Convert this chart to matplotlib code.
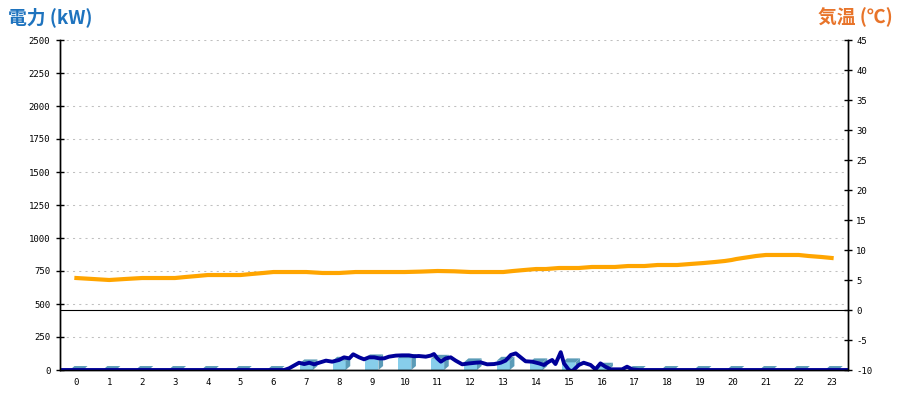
import matplotlib
matplotlib.use("Agg")
import matplotlib.pyplot as plt
from matplotlib.patches import Polygon

# hourly power bars (kW)
hours = list(range(24))
bar_kw = [0, 0, 0, 0, 0, 0, 0, 50, 70, 88, 90, 85, 58, 70, 58, 58, 25, 0, 0, 0, 0, 0, 0, 0]

# detailed power line (hour position, kW)
power_t = [-0.45, 6.33, 6.48, 6.78, 6.94, 7.09, 7.24, 7.39, 7.60, 7.79, 8.00, 8.15, 8.31, 8.43,
           8.61, 8.76, 8.91, 9.07, 9.22, 9.37, 9.52, 9.73, 9.92, 10.13, 10.28, 10.43, 10.64,
           10.79, 10.89, 10.99, 11.10, 11.25, 11.40, 11.55, 11.75, 11.96, 12.16, 12.31, 12.51,
           12.72, 12.92, 13.07, 13.23, 13.38, 13.53, 13.68, 13.88, 14.09, 14.24, 14.39, 14.49,
           14.59, 14.75, 14.85, 15.00, 15.10, 15.30, 15.45, 15.66, 15.81, 15.96, 16.11, 16.27,
           16.62, 16.77, 16.93, 17.13, 23.45]
power_kw = [0, 0, 13, 55, 45, 55, 43, 55, 71, 63, 76, 96, 88, 119,
            96, 81, 96, 96, 88, 88, 101, 109, 111, 111, 104, 106, 101,
            109, 121, 88, 63, 88, 96, 71, 43, 50, 55, 58, 43,
            45, 55, 71, 114, 126, 96, 66, 63, 50, 38, 63, 76,
            45, 135, 50, 0, -10, 38, 55, 38, 5, 50, 25, 5,
            5, 25, 5, 0, 0]

# temperature line (hour position, deg C)
temp_t = [0.0, 0.49, 1.0, 1.49, 2.0, 3.0, 3.32, 3.68, 4.0, 5.0, 5.33, 5.69, 6.0, 7.0, 7.5,
          8.0, 8.5, 9.0, 10.0, 10.5, 11.0, 11.5, 12.0, 13.0, 13.3, 13.65, 14.0, 14.3, 14.7,
          15.0, 15.3, 15.7, 16.0, 16.4, 16.8, 17.0, 17.3, 17.7, 18.0, 18.3, 18.7, 19.1,
          19.45, 19.75, 19.95, 20.1, 20.3, 20.5, 20.7, 21.0, 22.0, 22.3, 22.7, 23.0]
temp_c = [5.33, 5.17, 5.0, 5.17, 5.33, 5.33, 5.5, 5.67, 5.83, 5.83, 6.0, 6.17, 6.33, 6.33, 6.17,
          6.17, 6.33, 6.33, 6.33, 6.4, 6.5, 6.45, 6.33, 6.33, 6.5, 6.67, 6.83, 6.83, 7.0,
          7.0, 7.0, 7.17, 7.17, 7.17, 7.33, 7.33, 7.33, 7.5, 7.5, 7.5, 7.67, 7.83,
          8.0, 8.17, 8.33, 8.5, 8.67, 8.83, 9.0, 9.17, 9.17, 9.0, 8.83, 8.67]

kw_ticks = list(range(0, 2501, 250))
temp_ticks = list(range(-10, 46, 5))

fig = plt.figure(figsize=(9, 4), dpi=100)
ax = fig.add_axes([60 / 900, 30 / 400, 788 / 900, 330 / 400])
ax2 = ax.twinx()

# 3D-ish bars: front face + side + top
front_c = "#87CEEB"
side_c = "#5B9BB7"
bw = 0.40
dx, dy = 0.14, 30
ax.bar([h - 0.2 for h in hours], bar_kw, width=bw, align="edge", color=front_c,
       linewidth=0, zorder=2, antialiased=False)
for h, v in zip(hours, bar_kw):
    x0 = h - 0.2
    x1 = x0 + bw
    top = Polygon([(x0, v), (x1, v), (x1 + dx, v + dy), (x0 + dx, v + dy)],
                  closed=True, facecolor=side_c, edgecolor="none", zorder=2)
    side = Polygon([(x1, 0), (x1, v), (x1 + dx, v + dy), (x1 + dx, dy)],
                   closed=True, facecolor=side_c, edgecolor="none", zorder=2)
    ax.add_patch(top)
    ax.add_patch(side)

ax.plot(power_t, power_kw, color="#000099", lw=2.8, zorder=3, solid_joinstyle="round")

ax.set_xlim(-0.5, 23.5)
ax.set_ylim(0, 2500)
ax.set_yticks(kw_ticks)
ax.set_yticklabels([str(v) for v in kw_ticks], fontsize=6.5, family="DejaVu Sans Mono")
ax.set_xticks(hours)
ax.set_xticklabels([str(h) for h in hours], fontsize=6.5, family="DejaVu Sans Mono")
ax.tick_params(axis="x", length=0, pad=6)
ax.tick_params(axis="y", direction="inout", length=6, width=1, pad=4)
for v in kw_ticks[1:]:
    ax.axhline(v, color="#c0c0c0", lw=0.75, linestyle=(0, (2, 4)), zorder=1)

ax2.plot(temp_t, temp_c, color="#FFA500", lw=3, zorder=3)
ax2.axhline(0, color="black", lw=0.8, zorder=2)
ax2.set_ylim(-10, 45)
ax2.set_yticks(temp_ticks)
ax2.set_yticklabels([str(v) for v in temp_ticks], fontsize=6.5, family="DejaVu Sans Mono")
ax2.tick_params(axis="y", direction="inout", length=6, width=1, pad=3)

for a in (ax, ax2):
    a.spines["top"].set_visible(False)
    a.spines["left"].set_linewidth(1)
    a.spines["right"].set_linewidth(1)
    a.spines["bottom"].set_linewidth(1)

fig.text(8 / 900, 1 - 17 / 400, "電力 (kW)", color="#1E73BE", fontsize=13.5, fontweight="bold",
         family=["Noto Sans CJK JP", "DejaVu Sans"], va="center", ha="left")
fig.text(893 / 900, 1 - 17 / 400, "気温 (℃)", color="#E8742A", fontsize=13.5, fontweight="bold",
         family=["Noto Sans CJK JP", "DejaVu Sans"], va="center", ha="right")

fig.savefig("out.png", dpi=100)
